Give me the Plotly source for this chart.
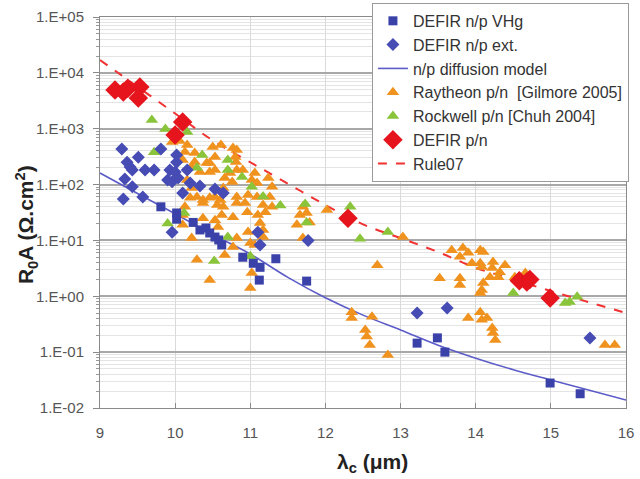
import plotly.graph_objects as go

# ---- DEFIR n/p, VHg process (cut-off wavelength in um, R0A in ohm.cm2)
vhg_wl = [9.81, 10.02, 10.02, 10.24, 10.33, 10.41, 10.46, 10.53, 10.58, 10.62,
          10.90, 11.04, 11.13, 11.12, 11.34, 11.75, 13.22, 13.49, 13.59, 14.99, 15.39]
vhg_r0a = [40, 31, 24, 21, 15.4, 16.7, 13.6, 11.5, 10.2, 8.3,
           5.0, 3.9, 3.3, 1.95, 4.7, 1.87, 0.145, 0.18, 0.10, 0.028, 0.018]

# ---- DEFIR n/p, extrinsic doping
ext_wl = [9.29, 9.51, 9.81, 9.36, 9.40, 9.43, 9.60, 9.72, 9.93, 10.00, 9.90, 9.96,
          10.04, 10.16, 10.02, 10.02, 9.33, 9.43, 9.57, 9.31, 10.10, 10.20, 10.33,
          10.53, 10.64, 9.96, 11.13, 11.10, 11.77, 13.22, 13.62, 15.52]
ext_r0a = [434, 310, 434, 250, 207, 182, 182, 182, 182, 168, 121, 112,
           131, 182, 340, 252, 126, 91, 60, 55, 71, 107, 94,
           83, 71, 14, 8.3, 14, 10, 0.50, 0.62, 0.18]

# ---- n/p diffusion-limited model
model_wl = [9.0, 9.5, 10.0, 10.5, 11.0, 11.5, 12.0, 12.5, 13.0, 13.5, 14.0, 14.5, 15.0, 15.5, 16.0]
model_r0a = [161, 69, 30, 12.7, 5.7, 2.18, 0.94, 0.46, 0.25, 0.133, 0.078, 0.0485, 0.0318, 0.021, 0.0139]

# ---- Raytheon p/n [Gilmore 2005]
ray_wl = [9.96, 10.06, 10.16, 10.13, 10.26, 10.10, 10.26, 10.42, 10.22, 10.50, 10.61, 10.53,
          10.46, 10.33, 10.46, 10.53, 10.77, 10.82, 10.80, 10.81, 10.66, 10.76, 10.64, 10.73,
          10.82, 10.90, 11.06, 11.02, 11.09, 11.24, 11.29, 11.26, 11.29, 10.16, 10.22, 10.29,
          10.20, 10.37, 10.46, 10.53, 10.60, 10.64, 10.82, 10.93, 10.97, 11.09, 10.96, 11.10,
          11.20, 11.13, 11.17, 10.13, 10.10, 10.77, 10.62, 10.37, 10.10, 10.57, 10.97, 11.06,
          10.22, 10.82, 10.29, 10.46, 11.02, 11.00, 10.66, 10.56, 10.82, 11.17, 10.53, 11.17,
          10.77, 11.00, 10.37,
          11.66, 11.62, 11.70, 11.70, 11.75, 11.79, 12.02, 12.69, 13.03,
          12.35, 12.35, 12.62, 12.53, 12.55, 12.59, 12.83,
          13.68, 13.83, 13.90, 13.79, 14.06, 14.10, 13.95, 14.06, 14.08, 14.23, 14.39, 14.22,
          14.32, 14.30, 14.19, 13.52, 13.79, 13.79, 14.10, 14.08, 14.06, 14.52, 14.66, 14.70,
          13.90, 14.06, 14.08, 14.15, 14.22, 14.23, 14.26,
          15.72, 15.85]
ray_r0a = [578, 603, 511, 383, 367, 275, 253, 243, 206, 471, 511, 312,
           243, 168, 168, 182, 452, 416, 312, 253, 131, 111, 87, 161,
           182, 182, 161, 121, 107, 131, 91, 60, 40, 121, 87, 60,
           58, 53, 58, 60, 53, 40, 60, 47, 65, 60, 32, 28.5,
           32, 20.5, 15.4, 40, 28.5, 26, 28.5, 25, 19, 17.4, 14.2, 8.3,
           11.1, 11.1, 4.5, 1.96, 2.6, 1.4, 5.5, 43, 47, 43, 23, 11.5,
           7.6, 9.0, 47,
           28.5, 19, 11.1, 40, 31, 21, 35, 3.6, 11.5,
           0.52, 0.41, 0.43, 0.25, 0.19, 0.134, 0.089,
           6.7, 7.3, 6.0, 5.1, 6.7, 6.2, 3.9, 3.9, 3.35, 4.1, 3.6, 3.2,
           2.7, 2.2, 2.2, 2.1, 2.1, 1.6, 1.73, 1.3, 1.15, 2.2, 2.6, 2.1,
           0.41, 0.52, 0.38, 0.41, 0.27, 0.22, 0.165,
           0.134, 0.134]

# ---- Rockwell p/n [Chuh 2004]
rock_wl = [9.69, 9.87, 10.16, 9.72, 10.36, 10.29, 10.70, 10.70, 10.89, 11.02, 11.17, 11.40,
           10.12, 9.90, 10.70, 10.52, 11.00, 11.73, 11.75, 12.33, 12.46, 12.83,
           14.50, 15.19, 15.25, 15.35]
rock_r0a = [1430, 988, 874, 380, 339, 200, 276, 183, 137, 91, 61, 42,
            31, 20, 11.5, 4.3, 5.2, 45, 21, 40, 10.7, 14.2,
            1.15, 0.76, 0.79, 0.98]

# ---- DEFIR p/n
pn_wl = [9.20, 9.31, 9.37, 9.53, 9.51, 10.10, 10.00, 12.30, 14.58, 14.68, 14.72, 14.99]
pn_r0a = [4930, 4540, 5300, 5590, 3550, 1320, 770, 25, 1.9, 1.8, 2.0, 0.93]

# ---- Rule07 empirical reference
rule_wl = [9.0, 9.5, 10.0, 10.5, 11.0, 11.5, 12.0, 12.5, 13.0, 13.5, 14.0, 14.5, 15.0, 15.5, 16.0]
rule_r0a = [17000, 5630, 1870, 617, 251, 104, 43, 19.4, 11.0, 6.2, 3.24, 2.0, 1.24, 0.79, 0.50]

# axis labels
y_tick_vals = [1e-2, 1e-1, 1e0, 1e1, 1e2, 1e3, 1e4, 1e5]
y_tick_text = ["1.E-02", "1.E-01", "1.E+00", "1.E+01", "1.E+02", "1.E+03", "1.E+04", "1.E+05"]
x_tick_vals = [9, 10, 11, 12, 13, 14, 15, 16]
x_title = "λ<sub>c</sub> (μm)"
y_title = "R<sub>0</sub>A (Ω.cm<sup>2</sup>)"

FONT = "Liberation Sans, Arial, sans-serif"
BLUE = "rgb(58,66,170)"
ORANGE = "rgb(240,146,30)"
GREEN = "rgb(138,196,58)"
RED = "rgb(230,20,28)"

fig = go.Figure()

fig.add_trace(go.Scatter(x=model_wl, y=model_r0a, mode="lines", name="n/p diffusion model",
                         line=dict(color="rgb(92,92,200)", width=1.6, shape="spline"),
                         legendrank=3))
fig.add_trace(go.Scatter(x=rule_wl, y=rule_r0a, mode="lines", name="Rule07",
                         line=dict(color="rgb(240,50,50)", width=2, dash="dash", shape="spline"),
                         legendrank=7))
fig.add_trace(go.Scatter(x=ray_wl, y=ray_r0a, mode="markers", name="Raytheon p/n  [Gilmore 2005]",
                         marker=dict(symbol="triangle-up", size=11, color=ORANGE),
                         legendrank=4))
fig.add_trace(go.Scatter(x=rock_wl, y=rock_r0a, mode="markers", name="Rockwell p/n [Chuh 2004]",
                         marker=dict(symbol="triangle-up", size=11, color=GREEN),
                         legendrank=5))
fig.add_trace(go.Scatter(x=ext_wl, y=ext_r0a, mode="markers", name="DEFIR n/p ext.",
                         marker=dict(symbol="diamond", size=10, color="rgb(70,76,180)"),
                         legendrank=2))
fig.add_trace(go.Scatter(x=vhg_wl, y=vhg_r0a, mode="markers", name="DEFIR n/p VHg",
                         marker=dict(symbol="square", size=9, color=BLUE),
                         legendrank=1))
fig.add_trace(go.Scatter(x=pn_wl, y=pn_r0a, mode="markers", name="DEFIR p/n",
                         marker=dict(symbol="diamond", size=15, color=RED),
                         legendrank=6))

minor_vals = [m * 10.0 ** e for e in range(-2, 5) for m in range(2, 10)]
title_font = dict(family=FONT, size=21, color="#222", weight="bold")

fig.update_layout(
    width=640, height=479,
    margin=dict(l=100, r=14, t=17, b=71, autoexpand=False),
    paper_bgcolor="white", plot_bgcolor="white",
    font=dict(family=FONT, color="#444"),
    showlegend=True,
    legend=dict(x=0.517, y=1.036, xanchor="left", yanchor="top",
                bgcolor="white", bordercolor="#9a9a9a", borderwidth=1,
                font=dict(family=FONT, size=16, color="#333"),
                tracegroupgap=0),
    xaxis=dict(range=[9, 16], tickmode="array", tickvals=x_tick_vals,
               showgrid=True, gridcolor="#dadada", gridwidth=1,
               showline=True, linecolor="#8a8a8a", linewidth=1, mirror=True,
               ticks="inside", ticklen=5, tickcolor="#8a8a8a",
               tickfont=dict(family=FONT, size=15, color="#555"),
               ticklabelstandoff=11, zeroline=False),
    yaxis=dict(type="log", range=[-2, 5], tickmode="array",
               tickvals=y_tick_vals, ticktext=y_tick_text,
               showgrid=True, gridcolor="#a8a8a8", gridwidth=2,
               showline=True, linecolor="#8a8a8a", linewidth=1, mirror=True,
               ticks="outside", ticklen=6, tickcolor="#8a8a8a",
               tickfont=dict(family=FONT, size=15, color="#555"),
               ticklabelstandoff=6, zeroline=False,
               minor=dict(tickmode="array", tickvals=minor_vals, showgrid=True,
                          gridcolor="#e4e4e4", gridwidth=1, ticks="outside",
                          ticklen=3, tickcolor="#9a9a9a")),
    annotations=[
        dict(text=x_title, xref="paper", yref="paper", x=0.519, y=-0.141,
             xanchor="center", yanchor="middle", showarrow=False, font=title_font),
        dict(text=y_title, xref="paper", yref="paper", x=-0.141, y=0.47,
             xanchor="center", yanchor="middle", textangle=-90, showarrow=False,
             font=title_font),
    ],
)

fig.write_html("out.html")
